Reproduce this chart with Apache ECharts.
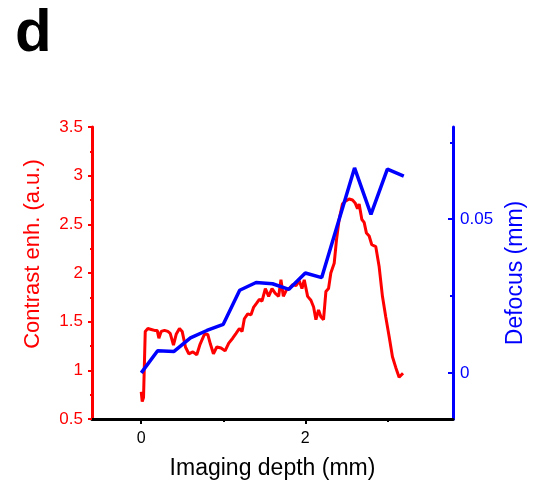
<!DOCTYPE html>
<html>
<head>
<meta charset="utf-8">
<script src="https://cdn.jsdelivr.net/npm/echarts@6/dist/echarts.min.js"></script>
<style>html,body{margin:0;padding:0;background:#fff;}#c{width:536px;height:488px;}</style>
</head>
<body>
<div id="c"></div>
<script>
const panelLabel = 'd';
const xName = 'Imaging depth (mm)';
const leftName = 'Contrast enh. (a.u.)';
const rightName = 'Defocus (mm)';
const xTickLabels = [0, 2];
const xMinorTicks = [1, 3];
const rightTickLabels = [0, 0.05];
const rightMinorTicks = [0.025, 0.075];

const redX = [0, 0.012, 0.028, 0.049, 0.081, 0.122, 0.162, 0.195, 0.215, 0.243, 0.284, 0.324, 0.353, 0.393, 0.426, 0.466, 0.499, 0.539, 0.580, 0.629, 0.677, 0.718, 0.770, 0.811, 0.843, 0.880, 0.921, 0.973, 1.022, 1.067, 1.115, 1.156, 1.196, 1.229, 1.257, 1.298, 1.338, 1.371, 1.407, 1.440, 1.472, 1.513, 1.553, 1.594, 1.634, 1.675, 1.703, 1.732, 1.772, 1.805, 1.845, 1.886, 1.926, 1.959, 1.987, 2.028, 2.068, 2.101, 2.129, 2.161, 2.190, 2.222, 2.251, 2.283, 2.311, 2.352, 2.380, 2.412, 2.453, 2.494, 2.534, 2.575, 2.607, 2.636, 2.656, 2.689, 2.717, 2.745, 2.778, 2.810, 2.859, 2.899, 2.940, 2.980, 3.021, 3.062, 3.102, 3.143, 3.163, 3.191];
const redY = [0.78, 0.68, 0.72, 1.40, 1.43, 1.42, 1.41, 1.41, 1.33, 1.40, 1.41, 1.40, 1.38, 1.26, 1.37, 1.43, 1.40, 1.24, 1.17, 1.19, 1.16, 1.27, 1.37, 1.37, 1.27, 1.17, 1.24, 1.23, 1.20, 1.28, 1.33, 1.38, 1.43, 1.40, 1.53, 1.58, 1.57, 1.65, 1.69, 1.73, 1.71, 1.84, 1.76, 1.84, 1.79, 1.76, 1.93, 1.76, 1.83, 1.84, 1.88, 1.87, 1.92, 1.84, 1.93, 1.76, 1.72, 1.65, 1.52, 1.62, 1.55, 1.52, 1.81, 1.84, 2.00, 2.10, 2.34, 2.55, 2.71, 2.74, 2.76, 2.75, 2.72, 2.66, 2.71, 2.55, 2.52, 2.41, 2.38, 2.29, 2.27, 2.07, 1.76, 1.55, 1.35, 1.14, 1.03, 0.93, 0.92, 0.97];

const blueX = [0, 0.2, 0.4, 0.6, 0.8, 1.0, 1.2, 1.4, 1.6, 1.8, 2.0, 2.2, 2.6, 2.8, 3.0, 3.2];
const blueY = [0, 0.0072, 0.007, 0.0114, 0.0138, 0.0158, 0.0269, 0.0294, 0.029, 0.0272, 0.0325, 0.031, 0.0667, 0.0516, 0.0663, 0.064];

const FONT = 'Liberation Sans, Arial, sans-serif';
const RED = '#ff0000', BLUE = '#0000ff';

const chart = echarts.init(document.getElementById('c'), null, {renderer: 'canvas'});
chart.setOption({
  animation: false,
  backgroundColor: '#fff',
  graphic: [{
    type: 'text', left: 15, top: 4,
    style: {text: panelLabel, font: 'bold 60px ' + FONT, fill: '#000'}
  }],
  grid: {left: 92, right: 83, top: 127, bottom: 69, containLabel: false},
  xAxis: [{
    type: 'value', min: -0.6, max: 3.8,
    name: xName, nameLocation: 'middle', nameGap: 38,
    nameTextStyle: {fontFamily: FONT, fontSize: 23, color: '#000'},
    axisLine: {onZero: false, lineStyle: {color: '#000', width: 3}},
    axisTick: {show: true, customValues: xTickLabels, length: 5, lineStyle: {color: '#000', width: 2}},
    axisLabel: {customValues: xTickLabels, fontFamily: FONT, fontSize: 16, color: '#000', margin: 12},
    splitLine: {show: false}
  }, {
    type: 'value', min: -0.6, max: 3.8, position: 'bottom',
    axisLine: {show: false, onZero: false},
    axisTick: {show: true, customValues: xMinorTicks, length: 3, lineStyle: {color: '#000', width: 2}},
    axisLabel: {show: false},
    splitLine: {show: false}
  }],
  yAxis: [{
    type: 'value', min: 0.5, max: 3.5, interval: 0.5, position: 'left',
    name: leftName, nameLocation: 'middle', nameGap: 48, nameRotate: 90,
    nameTextStyle: {fontFamily: FONT, fontSize: 22, color: RED, padding: [0, 0, 0, 38]},
    axisLine: {show: true, onZero: false, lineStyle: {color: RED, width: 3}},
    axisTick: {show: true, length: 4, lineStyle: {color: RED, width: 2}},
    minorTick: {show: true, splitNumber: 2, length: 2, lineStyle: {color: RED, width: 2}},
    axisLabel: {fontFamily: FONT, fontSize: 17, color: RED, margin: 9,
      formatter: v => String(v)},
    splitLine: {show: false}
  }, {
    type: 'value', min: -0.015, max: 0.08, position: 'right',
    name: rightName, nameLocation: 'middle', nameGap: 48, nameRotate: 90,
    nameTextStyle: {fontFamily: FONT, fontSize: 23, color: BLUE},
    axisLine: {show: true, onZero: false, lineStyle: {color: BLUE, width: 3}},
    axisTick: {show: true, inside: true, customValues: rightTickLabels, length: 5, lineStyle: {color: BLUE, width: 2}},
    axisLabel: {customValues: rightTickLabels, fontFamily: FONT, fontSize: 17, color: BLUE, margin: 7,
      formatter: v => String(v)},
    splitLine: {show: false}
  }, {
    type: 'value', min: -0.015, max: 0.08, position: 'right', offset: 0,
    axisLine: {show: false, onZero: false},
    axisTick: {show: true, inside: true, customValues: rightMinorTicks, length: 3, lineStyle: {color: BLUE, width: 2}},
    axisLabel: {show: false},
    splitLine: {show: false}
  }],
  series: [{
    type: 'line', xAxisIndex: 0, yAxisIndex: 0,
    data: redX.map((x, i) => [x, redY[i]]),
    showSymbol: false, symbol: 'none',
    lineStyle: {color: RED, width: 3}, z: 2
  }, {
    type: 'line', xAxisIndex: 0, yAxisIndex: 1,
    data: blueX.map((x, i) => [x, blueY[i]]),
    showSymbol: false, symbol: 'none',
    lineStyle: {color: BLUE, width: 3.5}, z: 3
  }]
});
</script>
</body>
</html>
